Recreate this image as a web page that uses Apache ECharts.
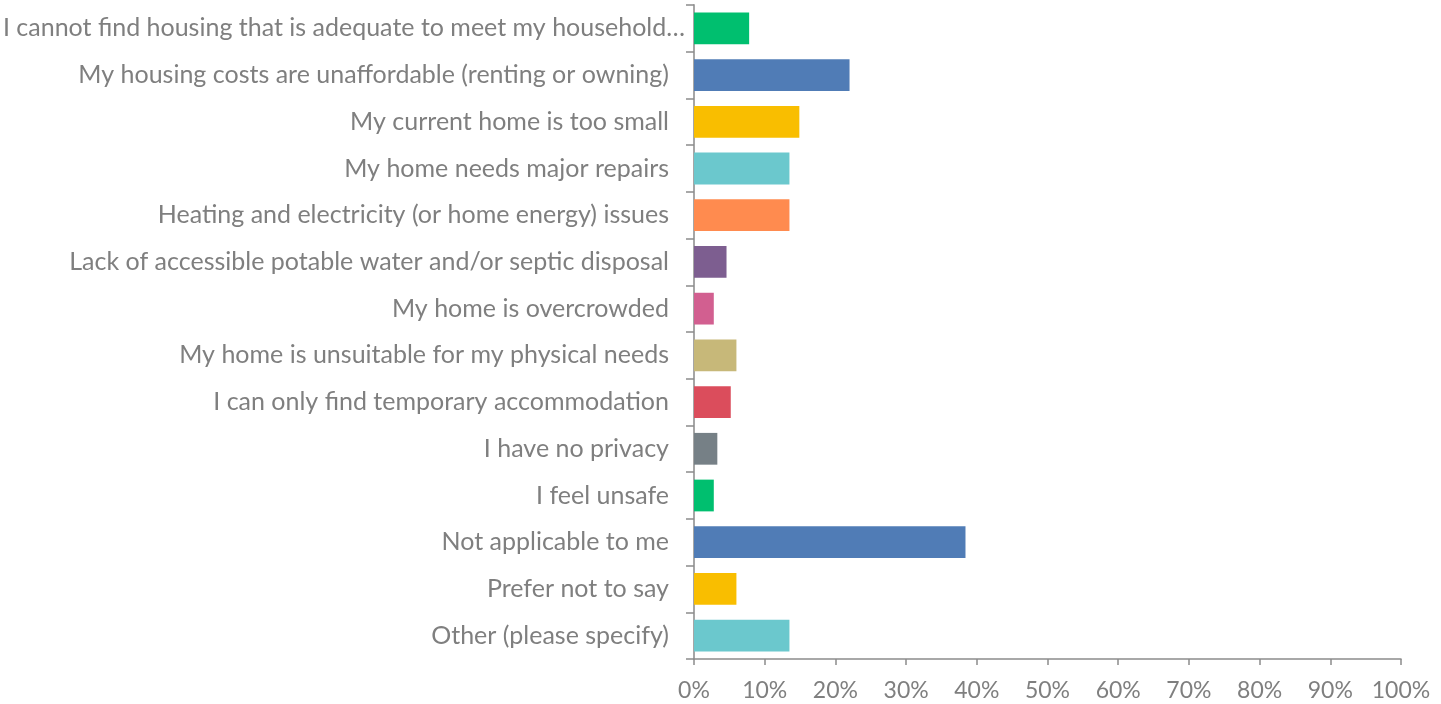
<!DOCTYPE html>
<html>
<head>
<meta charset="utf-8">
<script src="https://cdn.jsdelivr.net/npm/echarts@6/dist/echarts.min.js"></script>
<style>
  html, body { margin: 0; padding: 0; background: #fff; }
  #chart { width: 1441px; height: 704px; }
</style>
</head>
<body>
<div id="chart"></div>
<script>
// Survey answers, top to bottom
const categories = [
  'I cannot find housing that is adequate to meet my household…',
  'My housing costs are unaffordable (renting or owning)',
  'My current home is too small',
  'My home needs major repairs',
  'Heating and electricity (or home energy) issues',
  'Lack of accessible potable water and/or septic disposal',
  'My home is overcrowded',
  'My home is unsuitable for my physical needs',
  'I can only find temporary accommodation',
  'I have no privacy',
  'I feel unsafe',
  'Not applicable to me',
  'Prefer not to say',
  'Other (please specify)'
];

// Share of respondents, percent
const percentages = [7.8, 22.0, 14.9, 13.5, 13.5, 4.6, 2.8, 6.0, 5.2, 3.3, 2.8, 38.4, 6.0, 13.5];

const palette = ['#00BF6F', '#507CB6', '#F9BE00', '#6BC8CD', '#FF8B4F',
                 '#7D5E90', '#D25F90', '#C7B879', '#DB4D5C', '#768086'];

const xTicks = [0, 10, 20, 30, 40, 50, 60, 70, 80, 90, 100];

const chart = echarts.init(document.getElementById('chart'), null, { renderer: 'canvas' });

const textColor = '#7f7f7f';
const fontFamily = 'Lato, "Open Sans", sans-serif';

chart.setOption({
  animation: false,
  grid: { left: 694, right: 40, top: 5, bottom: 45, containLabel: false, outerBoundsMode: 'none' },
  xAxis: {
    type: 'value',
    min: xTicks[0],
    max: xTicks[xTicks.length - 1],
    interval: 10,
    axisLine: { show: true, lineStyle: { color: '#8c8c8c', width: 1.5 } },
    axisTick: { show: true, length: 6, lineStyle: { color: '#8c8c8c', width: 1.5 } },
    splitLine: { show: false },
    axisLabel: {
      formatter: v => v + '%',
      color: textColor,
      fontSize: 23,
      fontFamily: fontFamily,
      margin: 20
    }
  },
  yAxis: {
    type: 'category',
    data: categories,
    inverse: true,
    axisLine: { show: true, lineStyle: { color: '#a6a6a6', width: 2 } },
    axisTick: { show: true, length: 8, lineStyle: { color: '#8c8c8c', width: 1.5 } },
    axisLabel: {
      color: textColor,
      fontSize: 25,
      fontFamily: fontFamily,
      margin: 25,
      // the shortened first answer sits a little closer to the axis
      formatter: (v, i) => i === 0 ? '{near|' + v + '}' : v,
      rich: {
        near: { color: textColor, fontSize: 25, fontFamily: fontFamily, padding: [0, -16, 0, 0] }
      }
    }
  },
  series: [{
    type: 'bar',
    barCategoryGap: '32%',
    data: percentages.map((v, i) => ({
      value: v,
      itemStyle: { color: palette[i % palette.length] }
    }))
  }]
});
</script>
</body>
</html>
